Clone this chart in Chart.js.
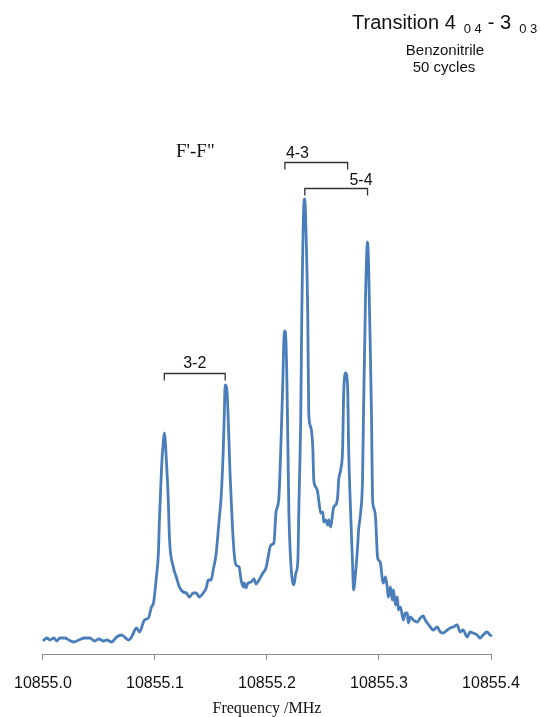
<!DOCTYPE html>
<html>
<head>
<meta charset="utf-8">
<script src="https://cdn.jsdelivr.net/npm/chart.js@4"></script>
<style>
  body { margin: 0; background: #fff; }
  canvas { display: block; }
</style>
</head>
<body>
<canvas id="spectrum" width="540" height="717"></canvas>
<script>
// frequency (MHz) and signal (arb. units)
const frequency = [
  10855.0000, 10855.0036, 10855.0062, 10855.0098, 10855.0124, 10855.0151, 10855.0196, 10855.0231,
  10855.0276, 10855.0320, 10855.0373, 10855.0418, 10855.0462, 10855.0498, 10855.0542, 10855.0569,
  10855.0613, 10855.0658, 10855.0702, 10855.0729, 10855.0764, 10855.0791, 10855.0836, 10855.0862,
  10855.0907, 10855.0942, 10855.0969, 10855.0987, 10855.1013, 10855.1031, 10855.1040, 10855.1058,
  10855.1076, 10855.1084, 10855.1102, 10855.1120, 10855.1129, 10855.1164, 10855.1191, 10855.1218,
  10855.1253, 10855.1280, 10855.1307, 10855.1342, 10855.1369, 10855.1396, 10855.1431, 10855.1458,
  10855.1476, 10855.1502, 10855.1520, 10855.1547, 10855.1573, 10855.1591, 10855.1609, 10855.1618,
  10855.1627, 10855.1644, 10855.1653, 10855.1662, 10855.1671, 10855.1689, 10855.1707, 10855.1724,
  10855.1751, 10855.1769, 10855.1787, 10855.1796, 10855.1813, 10855.1831, 10855.1858, 10855.1884,
  10855.1902, 10855.1929, 10855.1964, 10855.1991, 10855.2036, 10855.2062, 10855.2080, 10855.2098,
  10855.2107, 10855.2124, 10855.2142, 10855.2151, 10855.2160, 10855.2169, 10855.2178, 10855.2187,
  10855.2196, 10855.2213, 10855.2240, 10855.2258, 10855.2276, 10855.2284, 10855.2302, 10855.2311,
  10855.2320, 10855.2329, 10855.2338, 10855.2347, 10855.2364, 10855.2373, 10855.2391, 10855.2409,
  10855.2418, 10855.2436, 10855.2453, 10855.2462, 10855.2480, 10855.2498, 10855.2507, 10855.2524,
  10855.2542, 10855.2551, 10855.2569, 10855.2587, 10855.2596, 10855.2613, 10855.2631, 10855.2640,
  10855.2658, 10855.2676, 10855.2684, 10855.2702, 10855.2720, 10855.2729, 10855.2747, 10855.2764,
  10855.2773, 10855.2791, 10855.2809, 10855.2818, 10855.2836, 10855.2853, 10855.2862, 10855.2880,
  10855.2898, 10855.2907, 10855.2916, 10855.2933, 10855.2942, 10855.2951, 10855.2969, 10855.2987,
  10855.2996, 10855.3013, 10855.3031, 10855.3040, 10855.3058, 10855.3076, 10855.3084, 10855.3102,
  10855.3120, 10855.3129, 10855.3147, 10855.3164, 10855.3173, 10855.3191, 10855.3218, 10855.3236,
  10855.3253, 10855.3262, 10855.3280, 10855.3307, 10855.3342, 10855.3369, 10855.3396, 10855.3413,
  10855.3431, 10855.3458, 10855.3484, 10855.3520, 10855.3547, 10855.3573, 10855.3609, 10855.3636,
  10855.3662, 10855.3698, 10855.3724, 10855.3751, 10855.3787, 10855.3813, 10855.3840, 10855.3876,
  10855.3902, 10855.3929, 10855.3964, 10855.3991, 10855.4009
];
const intensity = [
  13, 16, 14, 16, 13, 16, 16, 14,
  12, 14, 16, 16, 13, 15, 13, 14,
  12, 17, 19, 17, 14, 17, 26, 22,
  34, 36, 47, 51, 77, 101, 134, 184,
  214, 221, 194, 151, 117, 87, 77, 67,
  62, 61, 57, 61, 61, 57, 61, 66,
  74, 74, 84, 101, 134, 157, 201, 234,
  269, 262, 239, 209, 179, 134, 101, 89,
  87, 74, 67, 71, 66, 71, 72, 75,
  70, 74, 81, 86, 109, 111, 141, 149,
  157, 207, 274, 314, 323, 314, 274, 207,
  141, 91, 69, 81, 94, 141, 241, 341,
  407, 449, 455, 429, 341, 241, 227, 207,
  174, 167, 162, 154, 141, 142, 132, 134,
  129, 134, 127, 141, 147, 149, 157, 174,
  184, 207, 257, 281, 267, 207, 141, 91,
  64, 81, 107, 124, 141, 174, 241, 357,
  412, 391, 341, 241, 157, 147, 137, 97,
  94, 91, 74, 71, 77, 64, 57, 67,
  54, 64, 49, 57, 44, 47, 34, 41,
  41, 31, 37, 34, 32, 36, 38, 34,
  31, 27, 24, 27, 22, 21, 24, 26,
  27, 29, 22, 24, 17, 22, 21, 19,
  16, 19, 22, 19, 18
];
const xTicks = [10855.0, 10855.1, 10855.2, 10855.3, 10855.4];

// hyperfine components F'-F" : pairs of peaks
const bracketLabels = ['3-2', '4-3', '5-4'];
const bracketStart = [10855.1084, 10855.2160, 10855.2338];
const bracketEnd = [10855.1627, 10855.2720, 10855.2898];

const annotate = {
  id: 'annotate',
  afterDraw(chart, args, opts) {
    const ctx = chart.ctx;
    const x = chart.scales.x, y = chart.scales.y;
    ctx.save();
    ctx.fillStyle = '#111';
    ctx.textBaseline = 'alphabetic';

    // title block, top right
    let px = 352;
    const pieces = [
      ['Transition 4', '20px "Liberation Sans"', 29, 8],
      ['0 4', '13px "Liberation Sans"', 33, 6],
      ['- 3', '20px "Liberation Sans"', 29, 8],
      ['0 3', '13px "Liberation Sans"', 33, 0]
    ];
    ctx.textAlign = 'left';
    pieces.forEach(p => {
      ctx.font = p[1];
      ctx.fillText(p[0], px, p[2]);
      px += ctx.measureText(p[0]).width + p[3];
    });
    ctx.font = '15px "Liberation Sans"';
    ctx.textAlign = 'center';
    ctx.fillText('Benzonitrile', 445, 55);
    ctx.fillText('50 cycles', 444, 72);

    ctx.font = '19px "Liberation Serif"';
    ctx.textAlign = 'left';
    ctx.fillText('F\'-F"', 176, 157);

    // brackets
    ctx.strokeStyle = '#333';
    ctx.lineWidth = 1.3;
    ctx.font = '16px "Liberation Sans"';
    bracketLabels.forEach((lab, i) => {
      const x0 = x.getPixelForValue(bracketStart[i]);
      const x1 = x.getPixelForValue(bracketEnd[i]);
      const yy = Math.round(y.getPixelForValue(opts.levels[i])) + 0.5;
      ctx.beginPath();
      ctx.moveTo(x0, yy + 7);
      ctx.lineTo(x0, yy);
      ctx.lineTo(x1, yy);
      ctx.lineTo(x1, yy + 7);
      ctx.stroke();
      const align = opts.align[i];
      ctx.textAlign = align;
      const tx = align === 'left' ? x0 + 1 : align === 'right' ? x1 + 5 : (x0 + x1) / 2;
      ctx.fillText(lab, tx, yy - opts.gap[i]);
    });
    ctx.restore();
  }
};

new Chart(document.getElementById('spectrum'), {
  type: 'line',
  data: {
    datasets: [{
      data: frequency.map((f, i) => ({x: f, y: intensity[i]})),
      borderColor: '#4a7ebb',
      borderWidth: 2.8,
      pointRadius: 0,
      fill: false,
      cubicInterpolationMode: 'monotone',
      clip: false
    }]
  },
  options: {
    responsive: false,
    animation: false,
    layout: { padding: { left: 41, right: 49, top: 154, bottom: 0 } },
    plugins: {
      legend: { display: false },
      tooltip: { enabled: false },
      annotate: {
        levels: [281, 492, 466],
        align: ['center', 'left', 'right'],
        gap: [6, 5, 4]
      }
    },
    scales: {
      x: {
        type: 'linear',
        min: 10855.0,
        max: 10855.4,
        afterBuildTicks: (axis) => { axis.ticks = xTicks.map(v => ({value: v})); },
        afterFit: (axis) => { axis.height = 63; },
        ticks: {
          color: '#111',
          font: { family: '"Liberation Sans"', size: 16 },
          padding: 14,
          maxRotation: 0,
          callback: (v) => v.toFixed(1)
        },
        grid: { drawOnChartArea: false, drawTicks: true, tickLength: 6, color: '#8c8c8c' },
        border: { display: true, color: '#8c8c8c', width: 1 },
        title: {
          display: true,
          text: 'Frequency /MHz',
          color: '#111',
          font: { family: '"Liberation Serif"', size: 16 },
          padding: { top: 0, bottom: -1 }
        }
      },
      y: {
        display: false,
        min: 0,
        max: 500
      }
    }
  },
  plugins: [annotate]
});
</script>
</body>
</html>
